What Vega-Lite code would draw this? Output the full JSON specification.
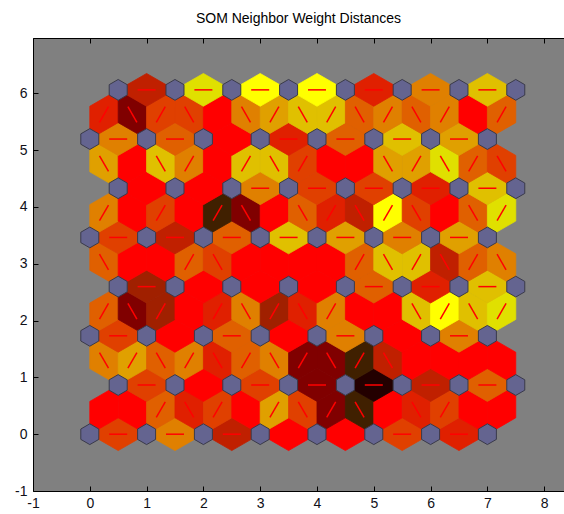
{
  "$schema": "https://vega.github.io/schema/vega-lite/v6.json",
  "autosize": {"type": "none"},
  "padding": {"left": 33, "top": 38, "right": 0, "bottom": 23},
  "width": 531,
  "height": 453,
  "background": "#ffffff",
  "title": {"text": "SOM Neighbor Weight Distances", "font": "Liberation Sans", "fontSize": 14, "fontWeight": "normal", "color": "#000000", "offset": 12},
  "config": {
    "view": {"stroke": null, "fill": "#808080"},
    "axis": {"domainColor": "#000000", "domainWidth": 1, "tickColor": "#000000", "tickSize": -5, "grid": false, "labelFont": "Liberation Sans", "labelFontSize": 14, "labelColor": "#101018", "labelFlush": false, "labelOverlap": false, "labelExpr": "toString(datum.value)", "title": null}
  },
  "datasets": {
    "tiles": [
      {"x": 0.5, "y": 0, "dir": "h", "d": 0.33}, {"x": 1.5, "y": 0, "dir": "h", "d": 0.2}, {"x": 2.5, "y": 0, "dir": "h", "d": 0.6}, {"x": 3.5, "y": 0, "dir": "h", "d": 0.5}, {"x": 4.5, "y": 0, "dir": "h", "d": 0.5}, {"x": 5.5, "y": 0, "dir": "h", "d": 0.33}, {"x": 6.5, "y": 0, "dir": "h", "d": 0.4},
      {"x": 0.25, "y": 0.433, "dir": "u", "d": 0.5}, {"x": 0.75, "y": 0.433, "dir": "d", "d": 0.5}, {"x": 1.25, "y": 0.433, "dir": "u", "d": 0.27}, {"x": 1.75, "y": 0.433, "dir": "d", "d": 0.4}, {"x": 2.25, "y": 0.433, "dir": "u", "d": 0.33}, {"x": 2.75, "y": 0.433, "dir": "d", "d": 0.5}, {"x": 3.25, "y": 0.433, "dir": "u", "d": 0.15}, {"x": 3.75, "y": 0.433, "dir": "d", "d": 0.33}, {"x": 4.25, "y": 0.433, "dir": "u", "d": 0.75}, {"x": 4.75, "y": 0.433, "dir": "d", "d": 0.87}, {"x": 5.25, "y": 0.433, "dir": "u", "d": 0.5}, {"x": 5.75, "y": 0.433, "dir": "d", "d": 0.4}, {"x": 6.25, "y": 0.433, "dir": "u", "d": 0.33}, {"x": 6.75, "y": 0.433, "dir": "d", "d": 0.5}, {"x": 7.25, "y": 0.433, "dir": "u", "d": 0.5},
      {"x": 1, "y": 0.866, "dir": "h", "d": 0.33}, {"x": 2, "y": 0.866, "dir": "h", "d": 0.5}, {"x": 3, "y": 0.866, "dir": "h", "d": 0.33}, {"x": 4, "y": 0.866, "dir": "h", "d": 0.75}, {"x": 5, "y": 0.866, "dir": "h", "d": 1}, {"x": 6, "y": 0.866, "dir": "h", "d": 0.6}, {"x": 7, "y": 0.866, "dir": "h", "d": 0.27},
      {"x": 0.25, "y": 1.299, "dir": "d", "d": 0.2}, {"x": 0.75, "y": 1.299, "dir": "u", "d": 0.15}, {"x": 1.25, "y": 1.299, "dir": "d", "d": 0.27}, {"x": 1.75, "y": 1.299, "dir": "u", "d": 0.2}, {"x": 2.25, "y": 1.299, "dir": "d", "d": 0.4}, {"x": 2.75, "y": 1.299, "dir": "u", "d": 0.27}, {"x": 3.25, "y": 1.299, "dir": "d", "d": 0.2}, {"x": 3.75, "y": 1.299, "dir": "u", "d": 0.75}, {"x": 4.25, "y": 1.299, "dir": "d", "d": 0.75}, {"x": 4.75, "y": 1.299, "dir": "u", "d": 0.87}, {"x": 5.25, "y": 1.299, "dir": "d", "d": 0.6}, {"x": 5.75, "y": 1.299, "dir": "u", "d": 0.5}, {"x": 6.25, "y": 1.299, "dir": "d", "d": 0.5}, {"x": 6.75, "y": 1.299, "dir": "u", "d": 0.5}, {"x": 7.25, "y": 1.299, "dir": "d", "d": 0.5},
      {"x": 0.5, "y": 1.732, "dir": "h", "d": 0.33}, {"x": 1.5, "y": 1.732, "dir": "h", "d": 0.5}, {"x": 2.5, "y": 1.732, "dir": "h", "d": 0.27}, {"x": 3.5, "y": 1.732, "dir": "h", "d": 0.5}, {"x": 4.5, "y": 1.732, "dir": "h", "d": 0.2}, {"x": 5.5, "y": 1.732, "dir": "h", "d": 0.5}, {"x": 6.5, "y": 1.732, "dir": "h", "d": 0.2},
      {"x": 0.25, "y": 2.165, "dir": "u", "d": 0.27}, {"x": 0.75, "y": 2.165, "dir": "d", "d": 0.75}, {"x": 1.25, "y": 2.165, "dir": "u", "d": 0.68}, {"x": 1.75, "y": 2.165, "dir": "d", "d": 0.5}, {"x": 2.25, "y": 2.165, "dir": "u", "d": 0.4}, {"x": 2.75, "y": 2.165, "dir": "d", "d": 0.2}, {"x": 3.25, "y": 2.165, "dir": "u", "d": 0.68}, {"x": 3.75, "y": 2.165, "dir": "d", "d": 0.4}, {"x": 4.25, "y": 2.165, "dir": "u", "d": 0.2}, {"x": 4.75, "y": 2.165, "dir": "d", "d": 0.5}, {"x": 5.25, "y": 2.165, "dir": "u", "d": 0.5}, {"x": 5.75, "y": 2.165, "dir": "d", "d": 0.1}, {"x": 6.25, "y": 2.165, "dir": "u", "d": 0}, {"x": 6.75, "y": 2.165, "dir": "d", "d": 0.1}, {"x": 7.25, "y": 2.165, "dir": "u", "d": 0.05},
      {"x": 1, "y": 2.598, "dir": "h", "d": 0.68}, {"x": 2, "y": 2.598, "dir": "h", "d": 0.5}, {"x": 3, "y": 2.598, "dir": "h", "d": 0.5}, {"x": 4, "y": 2.598, "dir": "h", "d": 0.5}, {"x": 5, "y": 2.598, "dir": "h", "d": 0.27}, {"x": 6, "y": 2.598, "dir": "h", "d": 0.4}, {"x": 7, "y": 2.598, "dir": "h", "d": 0.1},
      {"x": 0.25, "y": 3.031, "dir": "d", "d": 0.27}, {"x": 0.75, "y": 3.031, "dir": "u", "d": 0.5}, {"x": 1.25, "y": 3.031, "dir": "d", "d": 0.5}, {"x": 1.75, "y": 3.031, "dir": "u", "d": 0.27}, {"x": 2.25, "y": 3.031, "dir": "d", "d": 0.33}, {"x": 2.75, "y": 3.031, "dir": "u", "d": 0.5}, {"x": 3.25, "y": 3.031, "dir": "d", "d": 0.5}, {"x": 3.75, "y": 3.031, "dir": "u", "d": 0.5}, {"x": 4.25, "y": 3.031, "dir": "d", "d": 0.5}, {"x": 4.75, "y": 3.031, "dir": "u", "d": 0.27}, {"x": 5.25, "y": 3.031, "dir": "d", "d": 0.1}, {"x": 5.75, "y": 3.031, "dir": "u", "d": 0.1}, {"x": 6.25, "y": 3.031, "dir": "d", "d": 0.6}, {"x": 6.75, "y": 3.031, "dir": "u", "d": 0.27}, {"x": 7.25, "y": 3.031, "dir": "d", "d": 0.2},
      {"x": 0.5, "y": 3.464, "dir": "h", "d": 0.33}, {"x": 1.5, "y": 3.464, "dir": "h", "d": 0.6}, {"x": 2.5, "y": 3.464, "dir": "h", "d": 0.27}, {"x": 3.5, "y": 3.464, "dir": "h", "d": 0.1}, {"x": 4.5, "y": 3.464, "dir": "h", "d": 0.15}, {"x": 5.5, "y": 3.464, "dir": "h", "d": 0.2}, {"x": 6.5, "y": 3.464, "dir": "h", "d": 0.15},
      {"x": 0.25, "y": 3.897, "dir": "u", "d": 0.2}, {"x": 0.75, "y": 3.897, "dir": "d", "d": 0.5}, {"x": 1.25, "y": 3.897, "dir": "u", "d": 0.33}, {"x": 1.75, "y": 3.897, "dir": "d", "d": 0.5}, {"x": 2.25, "y": 3.897, "dir": "u", "d": 0.87}, {"x": 2.75, "y": 3.897, "dir": "d", "d": 0.75}, {"x": 3.25, "y": 3.897, "dir": "u", "d": 0.5}, {"x": 3.75, "y": 3.897, "dir": "d", "d": 0.27}, {"x": 4.25, "y": 3.897, "dir": "u", "d": 0.4}, {"x": 4.75, "y": 3.897, "dir": "d", "d": 0.6}, {"x": 5.25, "y": 3.897, "dir": "u", "d": 0}, {"x": 5.75, "y": 3.897, "dir": "d", "d": 0.33}, {"x": 6.25, "y": 3.897, "dir": "u", "d": 0.5}, {"x": 6.75, "y": 3.897, "dir": "d", "d": 0.27}, {"x": 7.25, "y": 3.897, "dir": "u", "d": 0.05},
      {"x": 1, "y": 4.33, "dir": "h", "d": 0.5}, {"x": 2, "y": 4.33, "dir": "h", "d": 0.5}, {"x": 3, "y": 4.33, "dir": "h", "d": 0.2}, {"x": 4, "y": 4.33, "dir": "h", "d": 0.33}, {"x": 5, "y": 4.33, "dir": "h", "d": 0.33}, {"x": 6, "y": 4.33, "dir": "h", "d": 0.4}, {"x": 7, "y": 4.33, "dir": "h", "d": 0.1},
      {"x": 0.25, "y": 4.763, "dir": "d", "d": 0.15}, {"x": 0.75, "y": 4.763, "dir": "u", "d": 0.5}, {"x": 1.25, "y": 4.763, "dir": "d", "d": 0.1}, {"x": 1.75, "y": 4.763, "dir": "u", "d": 0.2}, {"x": 2.25, "y": 4.763, "dir": "d", "d": 0.5}, {"x": 2.75, "y": 4.763, "dir": "u", "d": 0.1}, {"x": 3.25, "y": 4.763, "dir": "d", "d": 0.1}, {"x": 3.75, "y": 4.763, "dir": "u", "d": 0.33}, {"x": 4.25, "y": 4.763, "dir": "d", "d": 0.5}, {"x": 4.75, "y": 4.763, "dir": "u", "d": 0.5}, {"x": 5.25, "y": 4.763, "dir": "d", "d": 0.15}, {"x": 5.75, "y": 4.763, "dir": "u", "d": 0.15}, {"x": 6.25, "y": 4.763, "dir": "d", "d": 0.05}, {"x": 6.75, "y": 4.763, "dir": "u", "d": 0.27}, {"x": 7.25, "y": 4.763, "dir": "d", "d": 0.33},
      {"x": 0.5, "y": 5.196, "dir": "h", "d": 0.2}, {"x": 1.5, "y": 5.196, "dir": "h", "d": 0.27}, {"x": 2.5, "y": 5.196, "dir": "h", "d": 0.5}, {"x": 3.5, "y": 5.196, "dir": "h", "d": 0.4}, {"x": 4.5, "y": 5.196, "dir": "h", "d": 0.27}, {"x": 5.5, "y": 5.196, "dir": "h", "d": 0.1}, {"x": 6.5, "y": 5.196, "dir": "h", "d": 0.15},
      {"x": 0.25, "y": 5.629, "dir": "u", "d": 0.4}, {"x": 0.75, "y": 5.629, "dir": "d", "d": 0.75}, {"x": 1.25, "y": 5.629, "dir": "u", "d": 0.33}, {"x": 1.75, "y": 5.629, "dir": "d", "d": 0.33}, {"x": 2.25, "y": 5.629, "dir": "u", "d": 0.5}, {"x": 2.75, "y": 5.629, "dir": "d", "d": 0.2}, {"x": 3.25, "y": 5.629, "dir": "u", "d": 0.15}, {"x": 3.75, "y": 5.629, "dir": "d", "d": 0.1}, {"x": 4.25, "y": 5.629, "dir": "u", "d": 0.1}, {"x": 4.75, "y": 5.629, "dir": "d", "d": 0.27}, {"x": 5.25, "y": 5.629, "dir": "u", "d": 0.2}, {"x": 5.75, "y": 5.629, "dir": "d", "d": 0.27}, {"x": 6.25, "y": 5.629, "dir": "u", "d": 0.2}, {"x": 6.75, "y": 5.629, "dir": "d", "d": 0.5}, {"x": 7.25, "y": 5.629, "dir": "u", "d": 0.27},
      {"x": 1, "y": 6.062, "dir": "h", "d": 0.6}, {"x": 2, "y": 6.062, "dir": "h", "d": 0.05}, {"x": 3, "y": 6.062, "dir": "h", "d": 0}, {"x": 4, "y": 6.062, "dir": "h", "d": 0}, {"x": 5, "y": 6.062, "dir": "h", "d": 0.4}, {"x": 6, "y": 6.062, "dir": "h", "d": 0.2}, {"x": 7, "y": 6.062, "dir": "h", "d": 0.1}
    ],
    "neurons": [
      {"x": 0, "y": 0}, {"x": 1, "y": 0}, {"x": 2, "y": 0}, {"x": 3, "y": 0}, {"x": 4, "y": 0}, {"x": 5, "y": 0}, {"x": 6, "y": 0}, {"x": 7, "y": 0},
      {"x": 0.5, "y": 0.866}, {"x": 1.5, "y": 0.866}, {"x": 2.5, "y": 0.866}, {"x": 3.5, "y": 0.866}, {"x": 4.5, "y": 0.866}, {"x": 5.5, "y": 0.866}, {"x": 6.5, "y": 0.866}, {"x": 7.5, "y": 0.866},
      {"x": 0, "y": 1.732}, {"x": 1, "y": 1.732}, {"x": 2, "y": 1.732}, {"x": 3, "y": 1.732}, {"x": 4, "y": 1.732}, {"x": 5, "y": 1.732}, {"x": 6, "y": 1.732}, {"x": 7, "y": 1.732},
      {"x": 0.5, "y": 2.598}, {"x": 1.5, "y": 2.598}, {"x": 2.5, "y": 2.598}, {"x": 3.5, "y": 2.598}, {"x": 4.5, "y": 2.598}, {"x": 5.5, "y": 2.598}, {"x": 6.5, "y": 2.598}, {"x": 7.5, "y": 2.598},
      {"x": 0, "y": 3.464}, {"x": 1, "y": 3.464}, {"x": 2, "y": 3.464}, {"x": 3, "y": 3.464}, {"x": 4, "y": 3.464}, {"x": 5, "y": 3.464}, {"x": 6, "y": 3.464}, {"x": 7, "y": 3.464},
      {"x": 0.5, "y": 4.33}, {"x": 1.5, "y": 4.33}, {"x": 2.5, "y": 4.33}, {"x": 3.5, "y": 4.33}, {"x": 4.5, "y": 4.33}, {"x": 5.5, "y": 4.33}, {"x": 6.5, "y": 4.33}, {"x": 7.5, "y": 4.33},
      {"x": 0, "y": 5.196}, {"x": 1, "y": 5.196}, {"x": 2, "y": 5.196}, {"x": 3, "y": 5.196}, {"x": 4, "y": 5.196}, {"x": 5, "y": 5.196}, {"x": 6, "y": 5.196}, {"x": 7, "y": 5.196},
      {"x": 0.5, "y": 6.062}, {"x": 1.5, "y": 6.062}, {"x": 2.5, "y": 6.062}, {"x": 3.5, "y": 6.062}, {"x": 4.5, "y": 6.062}, {"x": 5.5, "y": 6.062}, {"x": 6.5, "y": 6.062}, {"x": 7.5, "y": 6.062}
    ]
  },
  "layer": [
    {
      "data": {"name": "tiles"},
      "mark": {"type": "point", "filled": true, "opacity": 1, "size": 3226, "strokeWidth": 0.8},
      "encoding": {
        "x": {"field": "x", "type": "quantitative", "scale": {"domain": [-1, 8.349], "nice": false, "zero": false}, "axis": {"orient": "bottom", "values": [-1, 0, 1, 2, 3, 4, 5, 6, 7, 8], "labelPadding": 10}},
        "y": {"field": "y", "type": "quantitative", "scale": {"domain": [-1, 6.975], "nice": false, "zero": false}, "axis": {"orient": "left", "values": [-1, 0, 1, 2, 3, 4, 5, 6], "labelPadding": 11}},
        "shape": {"field": "dir", "type": "nominal", "legend": null, "scale": {"domain": ["h", "u", "d"], "range": ["M-1,0L0,-0.57735L1,0L0,0.57735Z", "M0.5,-0.866L0.5,0.2887L-0.5,0.866L-0.5,-0.2887Z", "M0.5,0.866L-0.5,0.2887L-0.5,-0.866L0.5,-0.2887Z"]}},
        "color": {"field": "d", "type": "quantitative", "legend": null, "scale": {"domain": [0, 0.05, 0.1, 0.15, 0.2, 0.27, 0.33, 0.4, 0.5, 0.6, 0.68, 0.75, 0.87, 1], "range": ["#ffff00", "#e0e000", "#e0c000", "#e0a000", "#e08000", "#e06000", "#e04000", "#e02000", "#ff0000", "#c02000", "#a02000", "#800000", "#402000", "#000000"]}},
        "stroke": {"field": "d", "type": "quantitative", "legend": null, "scale": {"domain": [0, 0.05, 0.1, 0.15, 0.2, 0.27, 0.33, 0.4, 0.5, 0.6, 0.68, 0.75, 0.87, 1], "range": ["#ffff00", "#e0e000", "#e0c000", "#e0a000", "#e08000", "#e06000", "#e04000", "#e02000", "#ff0000", "#c02000", "#a02000", "#800000", "#402000", "#000000"]}}
      }
    },
    {
      "data": {"name": "tiles"},
      "mark": {"type": "point", "filled": false, "opacity": 1, "size": 324, "color": "#ff0000", "stroke": "#ff0000", "strokeWidth": 1.5},
      "encoding": {
        "x": {"field": "x", "type": "quantitative", "scale": {"domain": [-1, 8.349], "nice": false, "zero": false}, "axis": null},
        "y": {"field": "y", "type": "quantitative", "scale": {"domain": [-1, 6.975], "nice": false, "zero": false}},
        "shape": {"field": "dir", "type": "nominal", "legend": null, "scale": {"domain": ["h", "u", "d"], "range": ["M-1,0L1,0", "M-0.5,0.866L0.5,-0.866", "M-0.5,-0.866L0.5,0.866"]}}
      }
    },
    {
      "data": {"name": "neurons"},
      "mark": {"type": "point", "filled": true, "opacity": 1, "size": 324, "shape": "M0,-1.1547L1,-0.57735L1,0.57735L0,1.1547L-1,0.57735L-1,-0.57735Z", "fill": "#646490", "stroke": "#3a3a4a", "strokeWidth": 1},
      "encoding": {
        "x": {"field": "x", "type": "quantitative", "scale": {"domain": [-1, 8.349], "nice": false, "zero": false}, "axis": {"orient": "top", "labels": false, "values": [-1, 0, 1, 2, 3, 4, 5, 6, 7, 8]}},
        "y": {"field": "y", "type": "quantitative", "scale": {"domain": [-1, 6.975], "nice": false, "zero": false}}
      }
    }
  ],
  "resolve": {"scale": {"shape": "independent"}, "axis": {"x": "independent"}}
}
